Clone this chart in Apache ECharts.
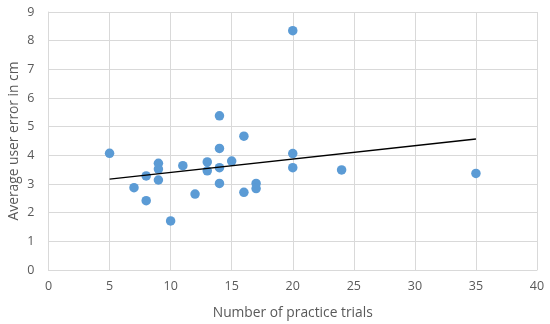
<!DOCTYPE html>
<html><head><meta charset="utf-8">
<script src="https://cdn.jsdelivr.net/npm/echarts@6/dist/echarts.min.js"></script>
<style>html,body{margin:0;padding:0;background:#fff}#c{width:550px;height:324px}</style>
</head><body><div id="c"></div>
<script>
var trialsX = [5,7,8,8,9,9,9,10,11,12,13,13,14,14,14,14,15,16,16,17,17,20,20,20,24,35];
var errorY  = [4.07,2.87,3.28,2.42,3.72,3.52,3.14,1.71,3.64,2.65,3.77,3.46,5.38,4.24,3.57,3.02,3.80,4.67,2.71,3.02,2.84,8.35,4.06,3.57,3.49,3.37];
var trendX = [5,35];
var trendY = [3.17,4.57];
var xTitle = 'Number of practice trials';
var yTitle = 'Average user error in cm';

var pts = trialsX.map(function(x,i){return [x, errorY[i]];});
var trend = trendX.map(function(x,i){return [x, trendY[i]];});
var font = '"Open Sans", Lato, sans-serif';
var chart = echarts.init(document.getElementById('c'));
chart.setOption({
  animation:false,
  grid:{left:48.5,right:13,top:12,bottom:54,containLabel:false,outerBoundsMode:'none'},
  xAxis:{type:'value',min:0,max:40,interval:5,
    name:xTitle,nameLocation:'middle',nameGap:36,nameMoveOverlap:false,
    nameTextStyle:{color:'#595959',fontSize:13.8,fontFamily:font},
    axisLine:{show:true,lineStyle:{color:'#d9d9d9',width:1}},
    axisTick:{show:false},
    axisLabel:{color:'#595959',fontSize:12.5,fontFamily:font,margin:10},
    splitLine:{show:true,lineStyle:{color:'#d9d9d9',width:1}}},
  yAxis:{type:'value',min:0,max:9,interval:1,
    name:yTitle,nameLocation:'middle',nameGap:27,nameRotate:90,nameMoveOverlap:false,
    nameTextStyle:{color:'#595959',fontSize:13.8,fontFamily:font},
    axisLine:{show:true,lineStyle:{color:'#d9d9d9',width:1}},
    axisTick:{show:false},
    axisLabel:{color:'#595959',fontSize:12.5,fontFamily:font,margin:14},
    splitLine:{show:true,lineStyle:{color:'#d9d9d9',width:1}}},
  series:[
    {type:'line',data:trend,symbol:'none',lineStyle:{color:'#000',width:1.5},z:3},
    {type:'scatter',data:pts,symbol:'circle',symbolSize:9.5,itemStyle:{color:'#5b9bd5',opacity:1},z:2}
  ]
});
</script></body></html>
